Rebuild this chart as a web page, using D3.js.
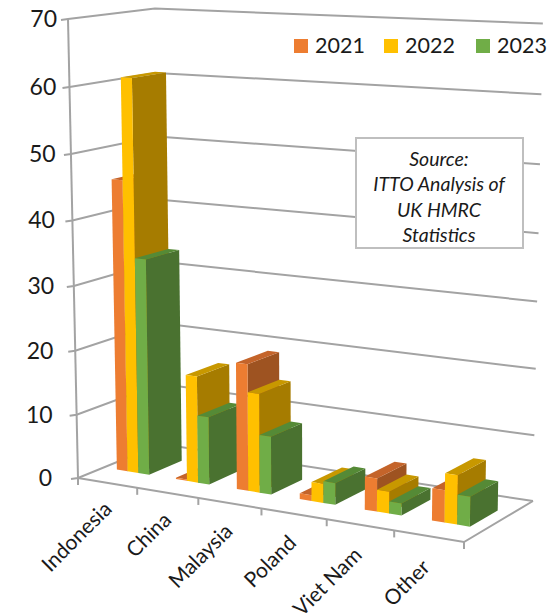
<!DOCTYPE html>
<html><head><meta charset="utf-8">
<style>html,body{margin:0;padding:0;background:#fff}svg{display:block}text{font-family:Lato,"Open Sans",sans-serif;fill:#1a1a1a}</style>
<script src="https://cdn.jsdelivr.net/npm/d3@7"></script></head><body>
<svg id="c" width="554" height="613"></svg>
<script>
const categories=["Indonesia","China","Malaysia","Poland","Viet Nam","Other"];
const years=["2021","2022","2023"];
const values2021=[45.5,0.2,19.5,0.9,5,4.8];
const values2022=[61,16.6,15.2,2.9,3.3,7.3];
const values2023=[33.7,10.5,8.9,3.3,1.8,4.4];
const yTicks=[0,10,20,30,40,50,60,70];
const faceColors=["#ED7D31","#FFC000","#70AD47"];
const topColors=["#C4642A","#C89800","#558A36"];
const sideColors=["#9E5321","#A67C00","#4A7230"];
const sourceLines=["Source:","ITTO Analysis of","UK HMRC","Statistics"];

// Camera: projective map fitted to the floor corners (front-left, front-right, back-right, back-left)
// plus the top of the value axis and its vertical foreshortening.
const floorQuad=[[78,478],[464,542],[533,501],[161,444]];
const axisTop=[68,19];
const vk=-0.041;
function camera(q,top,k){
  const [[x0,y0],[x1,y1],[x2,y2],[x3,y3]]=q;
  const dx1=x1-x2,dx2=x3-x2,sx=x0-x1+x2-x3,dy1=y1-y2,dy2=y3-y2,sy=y0-y1+y2-y3;
  const den=dx1*dy2-dx2*dy1,g=(sx*dy2-dx2*sy)/den,h=(dx1*sy-sx*dy1)/den;
  const a=x1-x0+g*x1,b=x3-x0+h*x3,d=y1-y0+g*y1,e=y3-y0+h*y3;
  const cx=top[0]*(1+k)-x0,cy=top[1]*(1+k)-y0;
  return (u,w,t)=>{const z=g*u+h*w+k*t+1;return [(a*u+b*w+cx*t+x0)/z,(d*u+e*w+cy*t+y0)/z];};
}
const cam=camera(floorQuad,axisTop,vk);
const vScale=d3.scaleLinear().domain([0,70]).range([0,1]);
const uBand=d3.scaleBand().domain(categories).range([0,1]).paddingInner(0).paddingOuter(0);
const uBars=d3.scaleBand().domain(years).range([0.225,0.775]);
const W0=0.3,W1=0.7;
const P=(u,w,val)=>cam(u,w,vScale(val));
const line=d3.line();
const poly=p=>line(p)+"Z";
const svg=d3.select("#c");
const gridColor="#a3a3a3";

// Gridlines on the two walls
const grid=svg.append("g").attr("fill","none").attr("stroke",gridColor).attr("stroke-width",2);
grid.selectAll("path.g").data(yTicks).join("path").attr("class","g")
  .attr("d",v=>line([[P(0,0,v)[0]-7,P(0,0,v)[1]+1],P(0,0,v),P(0,1,v),P(1,1,v)]));
// Axis lines
grid.append("path").attr("d",line([P(0,0,0),P(0,0,70)]));
grid.append("path").attr("d",line([P(0,0,0),P(1,0,0),P(1,1,0)]));
grid.selectAll("path.t").data(d3.range(categories.length+1)).join("path").attr("class","t")
  .attr("d",i=>{const p=P(i/categories.length,0,0);return line([p,[p[0],p[1]+7]]);});

// Bars
const bars=[];
categories.forEach((c,i)=>{[values2021,values2022,values2023].forEach((s,k)=>{bars.push({c,i,k,v:s[i]});});});
const gb=svg.append("g").selectAll("g").data(bars).join("g");
function corners(d){
  const bw=uBand.bandwidth();
  const u0=uBand(d.c)+bw*uBars(years[d.k]),u1=u0+bw*uBars.bandwidth();
  return {u0,u1};
}
gb.append("path").attr("fill",d=>sideColors[d.k]).attr("d",d=>{const {u1}=corners(d);return poly([P(u1,W0,0),P(u1,W1,0),P(u1,W1,d.v),P(u1,W0,d.v)]);});
gb.append("path").attr("fill",d=>topColors[d.k]).attr("d",d=>{const {u0,u1}=corners(d);return poly([P(u0,W0,d.v),P(u1,W0,d.v),P(u1,W1,d.v),P(u0,W1,d.v)]);});
gb.append("path").attr("fill",d=>faceColors[d.k]).attr("d",d=>{const {u0,u1}=corners(d);return poly([P(u0,W0,0),P(u1,W0,0),P(u1,W0,d.v),P(u0,W0,d.v)]);});

// Y labels
const labelX=d3.scaleLinear().domain([0,70]).range([52,57]);
svg.append("g").selectAll("text").data(yTicks).join("text")
  .attr("x",v=>labelX(v)).attr("y",v=>P(0,0,v)[1]+8).attr("text-anchor","end").attr("font-size",23).text(v=>v);
// X labels
svg.append("g").selectAll("text").data(categories).join("text")
  .attr("text-anchor","end").attr("font-size",21)
  .attr("transform",(c)=>{const u=uBand(c)+uBand.bandwidth()/2,p=P(u,0,0);return `translate(${p[0]+6-4*u},${p[1]+27+6*u}) rotate(-45)`;})
  .text(c=>c);

// Legend
const legendX=d3.scaleOrdinal().domain(years).range([294,384,476]);
const lg=svg.append("g").selectAll("g").data(years).join("g").attr("transform",y=>`translate(${legendX(y)},0)`);
lg.append("rect").attr("y",39).attr("width",14).attr("height",14).attr("fill",(y,i)=>faceColors[i]);
lg.append("text").attr("x",21).attr("y",53).attr("font-size",21.5).text(y=>y);

// Source box
svg.append("rect").attr("x",356).attr("y",138).attr("width",167).attr("height",110).attr("fill","#fff").attr("stroke","#bfbfbf").attr("stroke-width",2);
svg.append("g").selectAll("text").data(sourceLines).join("text")
  .attr("x",439).attr("y",(d,i)=>166+i*25.3).attr("text-anchor","middle").attr("font-size",19.5).attr("font-style","italic").text(d=>d);
</script></body></html>
